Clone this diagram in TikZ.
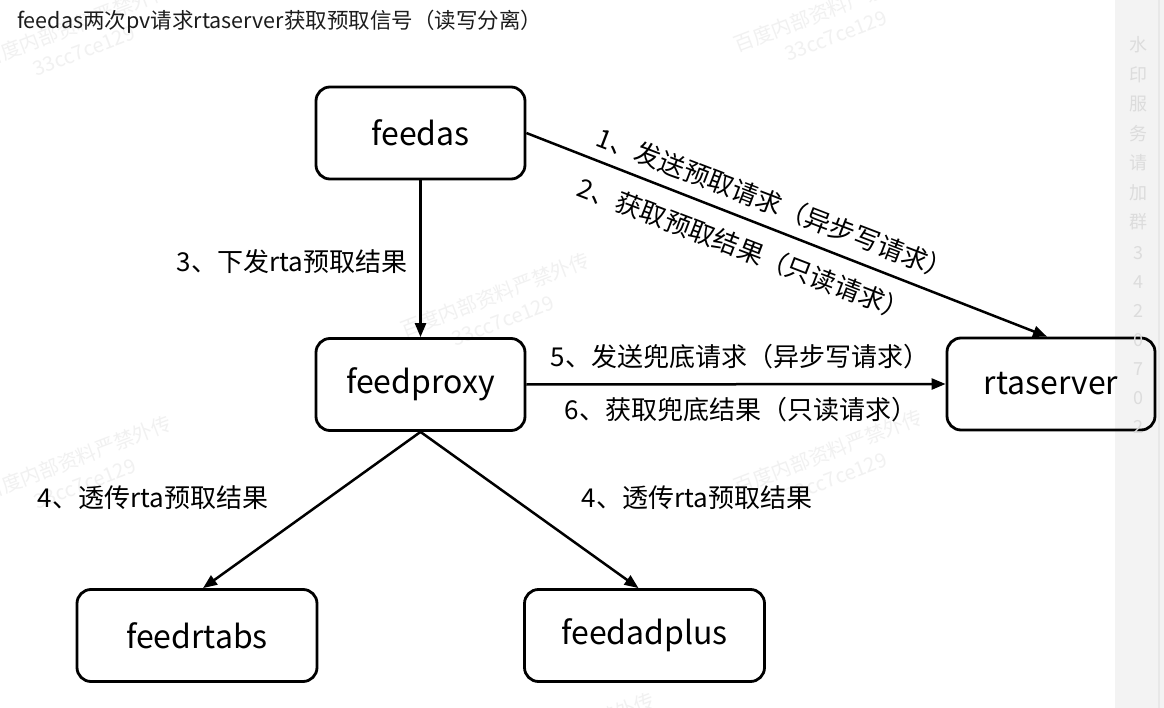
\documentclass[tikz,border=0pt]{standalone}
\usepackage{fontspec}
\setmainfont{Noto Sans CJK SC}
\usetikzlibrary{arrows.meta}
\definecolor{wm}{HTML}{F1F1F1}
\definecolor{sidebg}{HTML}{F3F3F3}
\definecolor{sideline}{HTML}{E8E8E8}
\definecolor{sidetext}{HTML}{DCDCDC}
\definecolor{titletext}{HTML}{1C1C1C}
\begin{document}
\begin{tikzpicture}[x=1pt,y=-1pt,
  box/.style={draw=black, line width=2.8pt, rounded corners=14pt, minimum width=209pt, minimum height=92pt, inner sep=0pt, font=\fontsize{32}{36}\selectfont},
  wbox/.style={box, minimum width=240pt, minimum height=92pt},
  conn/.style={draw=black, line width=2.5pt, -{Triangle[length=14pt,width=11pt]}},
  lbl/.style={inner sep=0pt, font=\fontsize{26}{30}\selectfont},
  wmark/.style={inner sep=0pt, text=wm, rotate=21, font=\fontsize{20}{24}\selectfont},
  side/.style={inner sep=0pt, text=sidetext, font=\fontsize{18}{20}\selectfont}]
\useasboundingbox (0,0) rectangle (1164,708);
\fill[white] (0,0) rectangle (1164,708);
% watermarks
\foreach \cx/\cy [count=\i] in {76/25, 828/10, 495/295, 77/458, 828/452, 560/735} {
  \node[wmark] (wa\i) at (\cx,\cy) {百度内部资料严禁外传};
  \node[wmark] (wb\i) at (\cx+8,\cy+26) {33cc7ce129};
}
% side bar
\fill[sidebg] (1115,0) rectangle (1164,708);
\draw[sideline, line width=1.5pt] (1159,0) -- (1159,708);
% title
\node[anchor=west, inner sep=0pt, text=titletext, font=\fontsize{21.5}{25}\selectfont] (title) at (17,22) {feedas两次pv请求rtaserver获取预取信号（读写分离）};
% nodes
\node[box] (feedas) at (420.5,133) {feedas};
\node[box] (feedproxy) at (420.5,384.5) {feedproxy};
\node[box, minimum width=208pt] (rtaserver) at (1051,384) {rtaserver};
\node[wbox] (feedrtabs) at (197,635.5) {feedrtabs};
\node[wbox] (feedadplus) at (644.5,635.5) {feedadplus};
% connectors
\draw[conn] (feedas.south) -- (feedproxy.north);
\draw[conn] (feedas.east) -- ([xshift=-4pt]rtaserver.north);
\draw[conn] (feedproxy.east) -- (rtaserver.west);
\draw[conn] (feedproxy.south) -- ([xshift=6pt]feedrtabs.north);
\draw[conn] (feedproxy.south) -- ([xshift=-6pt]feedadplus.north);
% labels
\node[lbl] (l3) at (292,262) {3、下发rta预取结果};
\node[lbl, rotate=-21] (l1) at (775,204) {1、发送预取请求（异步写请求）};
\node[lbl, rotate=-21] (l2) at (744,249) {2、获取预取结果（只读请求）};
\node[lbl] (l5) at (740,357) {5、发送兜底请求（异步写请求）};
\node[lbl] (l6) at (741,410) {6、获取兜底结果（只读请求）};
\node[lbl] (l4a) at (153,498) {4、透传rta预取结果};
\node[lbl] (l4b) at (697,498) {4、透传rta预取结果};
% side bar text
\foreach \ch/\yy [count=\i] in {水/45, 印/74.5, 服/104, 务/133.5, 请/163, 加/192.5, 群/222, 3/253, 4/282, 2/311, 0/340, 7/369, 0/398, 2/427} {
  \node[side] (s\i) at (1138,\yy) {\ch};
}
\end{tikzpicture}
\end{document}
